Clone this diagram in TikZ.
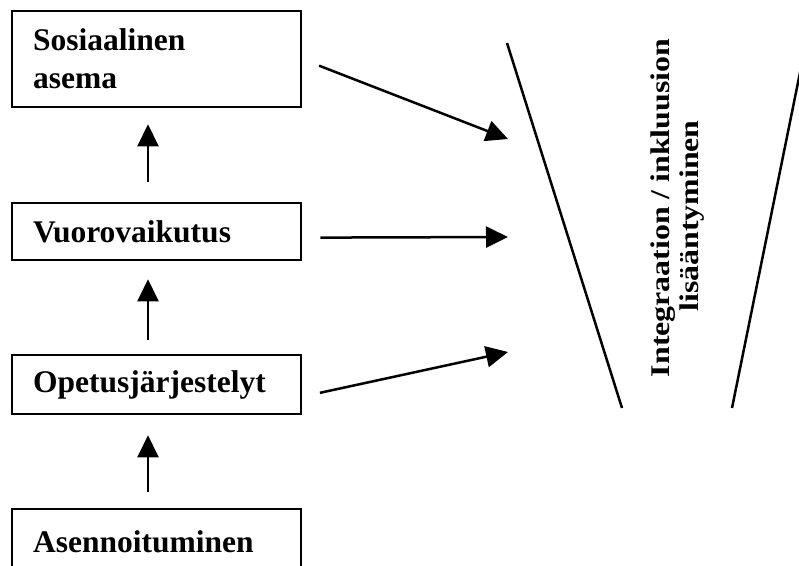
\documentclass[tikz,border=0pt]{standalone}
\usepackage{fontspec}
\setmainfont{Liberation Serif}
\usetikzlibrary{arrows.meta,calc}
\begin{document}
\begin{tikzpicture}[x=1pt,y=-1pt,
  box/.style={draw, line width=2.3pt, rectangle, anchor=north west, minimum width=289pt, text width=247pt, align=left, inner xsep=21pt, inner ysep=0pt, font=\fontsize{31.5}{38}\selectfont\bfseries},
  arr/.style={line width=2.5pt, -{Triangle[length=22pt,width=21pt]}},
  funnel/.style={line width=2.5pt},
  lbl/.style={rotate=90, anchor=base, inner sep=0pt, font=\fontsize{27}{29}\selectfont\bfseries}]
\clip (0,0) rectangle (799,565);
\node[box, minimum height=96pt] (b1) at (11,10) {Sosiaalinen\\asema};
\node[box, minimum height=57pt] (b2) at (11,202) {Vuorovaikutus};
\node[box, minimum height=59pt] (b3) at (11,354) {Opetusjärjestelyt};
\node[box, minimum height=66pt] (b4) at (11,508) {Asennoituminen};
\coordinate (col) at (148,0);
\draw[arr, shorten <=20pt, shorten >=16pt] (b2.north -| col) -- (b1.south -| col);
\draw[arr, shorten <=14pt, shorten >=18pt] (b3.north -| col) -- (b2.south -| col);
\draw[arr, shorten <=16pt, shorten >=20pt] (b4.north -| col) -- (b3.south -| col);
\coordinate (t1) at (508,139);
\coordinate (t2) at (508,237);
\coordinate (t3) at (508,352);
\draw[arr, shorten <=18pt] (b1.east) -- (t1);
\draw[arr, shorten <=18pt] ([yshift=-6pt]b2.east) -- (t2);
\draw[arr, shorten <=18pt] ([yshift=-12pt]b3.east) -- (t3);
\coordinate (fl1) at (507,43);
\coordinate (fl2) at (622,408);
\coordinate (fr1) at (806,43);
\coordinate (fr2) at (732,408);
\draw[funnel] (fl1) -- (fl2);
\draw[funnel] (fr2) -- (fr1);
\node[lbl] (l1) at (669,208) {\scalebox{1.18}[1]{Integraation / inkluusion}};
\node[lbl] (l2) at (698,216) {\scalebox{1.18}[1]{lisääntyminen}};
\end{tikzpicture}
\end{document}
